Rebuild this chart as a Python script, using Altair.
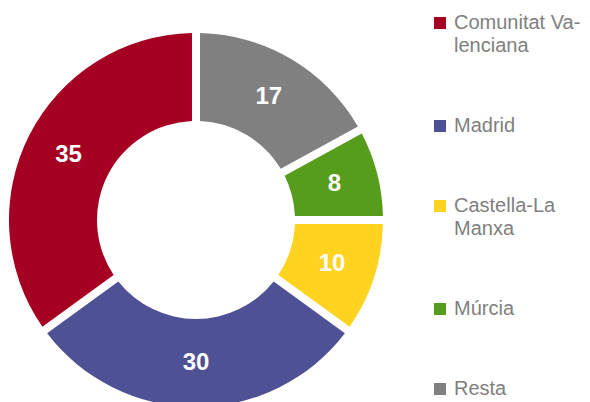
import altair as alt
import pandas as pd

regions = ["Comunitat Valenciana", "Madrid", "Castella-La Manxa", "Múrcia", "Resta"]
values = [35, 30, 10, 8, 17]
colors = ["#A50021", "#4F5195", "#FFD320", "#579D1C", "#808080"]

df = pd.DataFrame({"regio": regions, "valor": values, "ordre": list(range(len(regions)))})

label_expr = ("datum.label == 'Comunitat Valenciana' ? ['Comunitat Va-', 'lenciana'] : "
              "datum.label == 'Castella-La Manxa' ? ['Castella-La', 'Manxa'] : datum.label")

base = alt.Chart(df).encode(
    theta=alt.Theta("valor:Q", stack=True),
    order=alt.Order("ordre:Q", sort="descending"),
    x=alt.value(188),
    y=alt.value(212),
)

arcs = base.mark_arc(radius=187, radius2=99, padAngle=0.038).encode(
    color=alt.Color(
        "regio:N",
        scale=alt.Scale(domain=regions, range=colors),
        legend=alt.Legend(
            title=None,
            orient="none",
            legendX=422,
            legendY=5,
            symbolType="square",
            symbolSize=144,
            symbolStrokeWidth=0,
            labelFont="Liberation Sans",
            labelFontSize=20,
            labelColor="#808080",
            labelOffset=4,
            labelLimit=200,
            labelExpr=label_expr,
            rowPadding=60,
            padding=0,
        ),
    )
)

texts = base.mark_text(
    radius=143, font="Liberation Sans", fontSize=24, fontWeight="bold", color="white"
).encode(text="valor:Q")

chart = (
    (arcs + texts)
    .properties(width=574, height=394, autosize=alt.AutoSizeParams(type="none"), padding=0)
    .configure(style={"guide-label": {"lineHeight": 23}})
    .configure_view(stroke=None)
)

chart.save("out.html", embed_options={"renderer": "svg", "actions": False})
